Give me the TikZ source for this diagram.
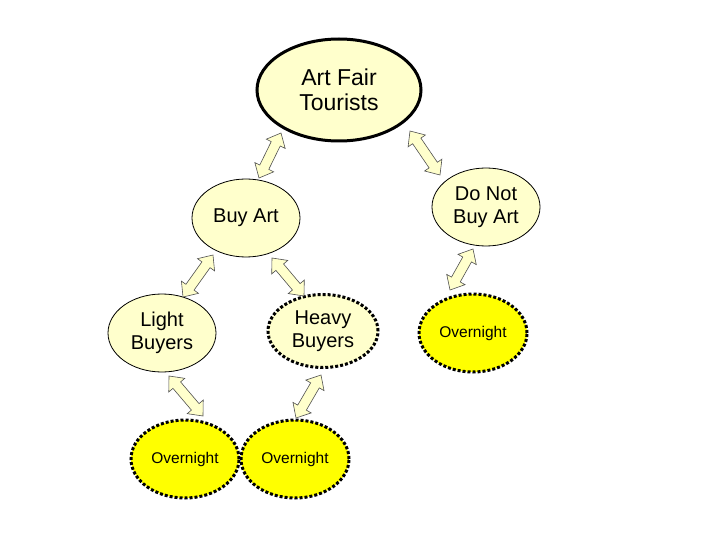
\documentclass[tikz,border=0pt]{standalone}
\usepackage{fontspec}
\setmainfont{Liberation Sans}
\usetikzlibrary{shapes.geometric,calc}
\definecolor{cream}{RGB}{255,255,204}
\definecolor{brightyellow}{RGB}{255,255,0}
\definecolor{arrowline}{RGB}{80,80,80}
\tikzset{
  oval/.style={ellipse, draw=black, fill=cream, inner sep=0pt, align=center,
    minimum width=108pt, minimum height=78pt, line width=0.8pt,
    font=\fontsize{20}{23}\selectfont},
  mainoval/.style={oval, minimum width=164pt, minimum height=102pt, line width=3pt,
    font=\fontsize{23}{25}\selectfont},
  dotborder/.style={line width=3pt, dash pattern=on 3pt off 2pt},
  nightoval/.style={oval, dotborder, fill=brightyellow, minimum width=108pt,
    minimum height=78pt, font=\fontsize{15.5}{18}\selectfont},
  blockarrow/.style={draw=arrowline, fill=cream, line width=0.6pt, line join=miter},
}
\newcommand\blockarr[2]{%
  \draw[blockarrow] let \p1=(#1), \p2=(#2),
    \n1={atan2(\y2-\y1,\x2-\x1)}, \n2={veclen(\x2-\x1,\y2-\y1)},
    \n3={\n2-12pt} in
    ([shift={(#1)},rotate=\n1]0pt,0pt)
    -- ([shift={(#1)},rotate=\n1]12pt,10.5pt)
    -- ([shift={(#1)},rotate=\n1]12pt,5pt)
    -- ([shift={(#1)},rotate=\n1]\n3,5pt)
    -- ([shift={(#1)},rotate=\n1]\n3,10.5pt)
    -- ([shift={(#1)},rotate=\n1]\n2,0pt)
    -- ([shift={(#1)},rotate=\n1]\n3,-10.5pt)
    -- ([shift={(#1)},rotate=\n1]\n3,-5pt)
    -- ([shift={(#1)},rotate=\n1]12pt,-5pt)
    -- ([shift={(#1)},rotate=\n1]12pt,-10.5pt)
    -- cycle;}
\begin{document}
\begin{tikzpicture}[x=1pt,y=-1pt]
\useasboundingbox[fill=white] (0,0) rectangle (720,540);
\node[mainoval] (tour) at (339,90) {Art Fair\\Tourists};
\node[oval] (buy) at (246,218) {Buy Art};
\node[oval] (notbuy) at (486,207) {Do Not\\Buy Art};
\node[oval] (light) at (162,333) {Light\\Buyers};
\node[oval, dotborder, minimum width=110pt, minimum height=73pt] (heavy) at (323,331) {Heavy\\Buyers};
\node[nightoval] (n1) at (185,459) {Overnight};
\node[nightoval] (n2) at (295,459) {Overnight};
\node[nightoval] (n3) at (473,333) {Overnight};
\coordinate (a1s) at (259,178); \coordinate (a1e) at (281,133);
\coordinate (a2s) at (410,131); \coordinate (a2e) at (440,175);
\coordinate (a3s) at (183,297); \coordinate (a3e) at (213,255);
\coordinate (a4s) at (272,258); \coordinate (a4e) at (304,296);
\coordinate (a5s) at (169,376); \coordinate (a5e) at (203,416);
\coordinate (a6s) at (321,375); \coordinate (a6e) at (296,418);
\coordinate (a7s) at (473,249); \coordinate (a7e) at (450,290);
\blockarr{a1s}{a1e}
\blockarr{a2s}{a2e}
\blockarr{a3s}{a3e}
\blockarr{a4s}{a4e}
\blockarr{a5s}{a5e}
\blockarr{a6s}{a6e}
\blockarr{a7s}{a7e}
\end{tikzpicture}
\end{document}
